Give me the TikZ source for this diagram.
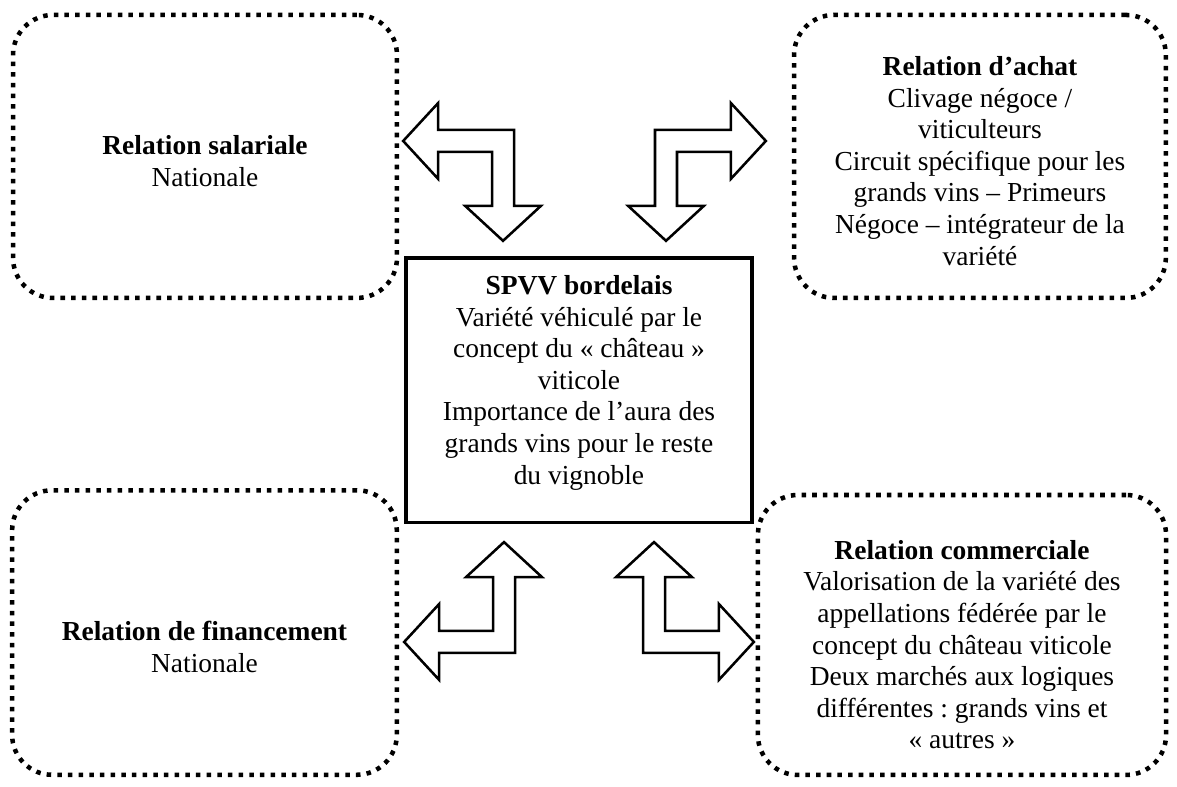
\documentclass[tikz,border=0pt]{standalone}
\usepackage{fontspec}
\setmainfont{Liberation Serif}
\usetikzlibrary{positioning}
\frenchspacing

\begin{document}
\begin{tikzpicture}[
  font=\fontsize{10.3}{11.85}\selectfont,
  relbox/.style={draw=black, line width=1.7pt, dash pattern=on 1.7pt off 2.3pt,
    rounded corners=15pt, align=center, inner sep=0pt},
  core/.style={draw=black, line width=1.2pt, align=center, inner sep=0pt,
    minimum width=4.56cm, minimum height=3.49cm},
  blockarrow/.style={draw=black, line width=0.95pt, fill=white, line join=miter},
  bentarrow/.pic={
    \draw[blockarrow] (0,0) -- (1.0,0) -- (1.0,-0.355) -- (1.461,0.145) -- (1.0,0.645)
      -- (1.0,0.29) -- (0.29,0.29) -- (0.29,1.0) -- (0.645,1.0) -- (0.145,1.461)
      -- (-0.355,1.0) -- (0,1.0) -- cycle;
  }
]
\useasboundingbox (0,0) rectangle (15.513,10.372);

% the SPVV in the middle (deep strut lifts the text a little)
\node[core] (spvv) at (7.631,5.226) {\textbf{SPVV bordelais}\\Variété véhiculé par le\\concept du «~château~»\\viticole\\Importance de l’aura des\\grands vins pour le reste\\du vignoble\rule[-8pt]{0pt}{1pt}};

% four relations in the corners
\node[relbox, minimum width=5.06cm, minimum height=3.73cm] (salaire) at (2.702,8.310)
  {\rule{0pt}{10.5pt}\textbf{Relation salariale}\\Nationale};
\node[relbox, minimum width=4.90cm, minimum height=3.73cm] (achat) at (12.916,8.310)
  {\rule{0pt}{10.5pt}\textbf{Relation d’achat}\\Clivage négoce /\\viticulteurs\\Circuit spécifique pour les\\grands vins – Primeurs\\Négoce – intégrateur de la\\variété};
\node[relbox, minimum width=5.07cm, minimum height=3.75cm] (financement) at (2.695,2.035)
  {\rule{0pt}{18pt}\textbf{Relation de financement}\\Nationale};
\node[relbox, minimum width=5.38cm, minimum height=3.69cm] (commerce) at (12.679,2.003)
  {\rule{0pt}{14.5pt}\textbf{Relation commerciale}\\Valorisation de la variété des\\appellations fédérée par le\\concept du château viticole\\Deux marchés aux logiques\\différentes : grands vins et\\«~autres~»};

% bent double arrows between the SPVV and each relation
\pic[xscale=-1, yscale=-1] (arSalaire) at (6.775,8.659) {bentarrow};
\pic[yscale=-1] (arAchat) at (8.633,8.659) {bentarrow};
\pic[xscale=-1] (arFinance) at (6.788,1.766) {bentarrow};
\pic (arCommerce) at (8.475,1.766) {bentarrow};

\end{tikzpicture}
\end{document}
